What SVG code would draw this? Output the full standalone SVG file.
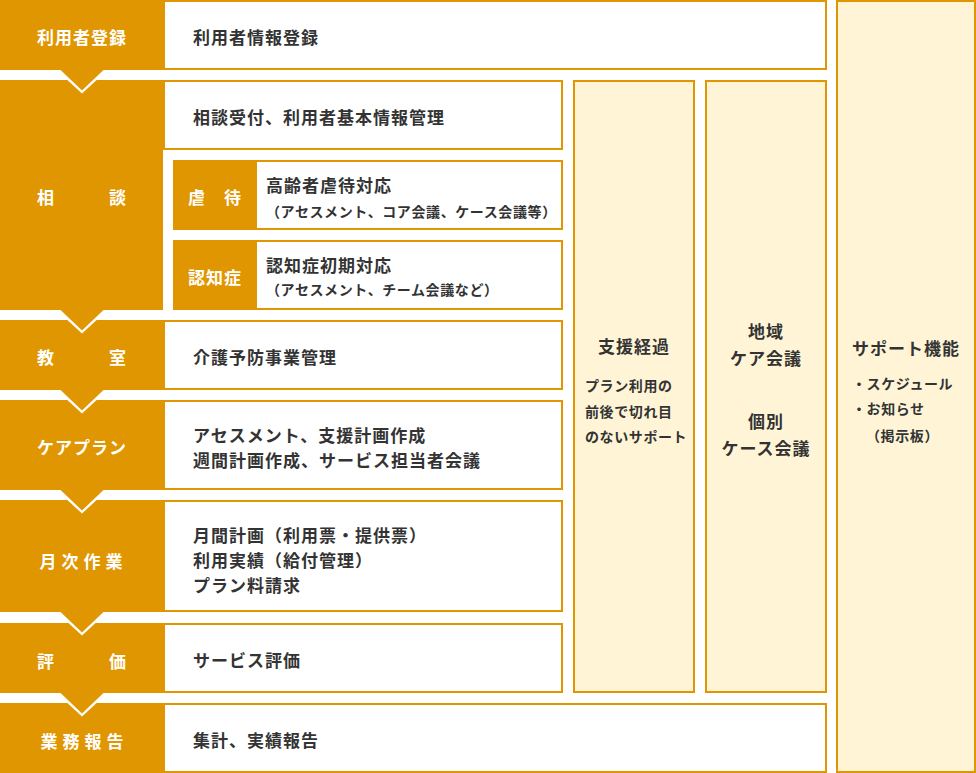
<svg xmlns="http://www.w3.org/2000/svg" width="976" height="773" viewBox="0 0 976 773">
<defs>
<style>
.box{fill:#fff;stroke:#E09600;stroke-width:2}
.col{fill:#FFF5D6;stroke:#E09600;stroke-width:2}
.lab{fill:#E09600}
.lt{font-family:"Noto Sans CJK JP",sans-serif;font-size:17px;font-weight:700;fill:#fff;letter-spacing:1px;dominant-baseline:central;text-anchor:middle}
.t{font-family:"Noto Sans CJK JP",sans-serif;font-size:17px;font-weight:700;fill:#333;letter-spacing:1px;dominant-baseline:central}
.s{font-family:"Noto Sans CJK JP",sans-serif;font-size:14px;font-weight:700;fill:#333;letter-spacing:0.6px;dominant-baseline:central}
.c{text-anchor:middle}
.wv{fill:#fff}
.ov{fill:#E09600}
</style>
</defs>
<rect width="976" height="773" fill="#fff"/>

<g id="col-shienkeika">
<rect class="col" x="574" y="81" width="120" height="611"/>
<text class="t c" x="634" y="345">支援経過</text>
<text class="s" x="585" y="385">プラン利用の</text>
<text class="s" x="585" y="411">前後で切れ目</text>
<text class="s" x="585" y="436">のないサポート</text>
</g>

<g id="col-kaigi">
<rect class="col" x="706" y="81" width="120" height="611"/>
<text class="t c" x="766" y="330.5">地域</text>
<text class="t c" x="766" y="357.5">ケア会議</text>
<text class="t c" x="766" y="420">個別</text>
<text class="t c" x="766" y="447">ケース会議</text>
</g>

<g id="col-support">
<rect class="col" x="837" y="1" width="138" height="771"/>
<text class="t c" x="906" y="347">サポート機能</text>
<text class="s" x="852" y="383">・スケジュール</text>
<text class="s" x="852" y="408">・お知らせ</text>
<text class="s" x="866" y="435">（掲示板）</text>
</g>

<g id="row-touroku">
<rect class="box" x="1" y="1" width="825" height="68"/>
<rect class="lab" x="0" y="0" width="165" height="70"/>
<text class="lt" x="82" y="36.5">利用者登録</text>
<text class="t" x="193" y="36.5">利用者情報登録</text>
</g>

<g id="row-soudan">
<rect class="lab" x="0" y="80" width="163" height="230"/>
<text class="lt" x="46 118" y="196.5">相談</text>
<rect class="box" x="164" y="81" width="398" height="68"/>
<text class="t" x="193" y="116">相談受付、利用者基本情報管理</text>
</g>

<g id="sub-gyakutai">
<rect class="box" x="174" y="161" width="388" height="68"/>
<rect class="lab" x="173" y="160" width="84" height="70"/>
<text class="lt" x="197 233" y="196.5">虐待</text>
<text class="t" x="266" y="184">高齢者虐待対応</text>
<text class="s" x="266" y="211">（アセスメント、コア会議、ケース会議等）</text>
</g>

<g id="sub-ninchisho">
<rect class="box" x="174" y="241" width="388" height="68"/>
<rect class="lab" x="173" y="240" width="84" height="70"/>
<text class="lt" x="215" y="276.5">認知症</text>
<text class="t" x="266" y="264">認知症初期対応</text>
<text class="s" x="266" y="289">（アセスメント、チーム会議など）</text>
</g>

<g id="row-kyoushitsu">
<rect class="box" x="1" y="321" width="561" height="68"/>
<rect class="lab" x="0" y="320" width="165" height="70"/>
<text class="lt" x="46 118" y="356">教室</text>
<text class="t" x="193" y="356">介護予防事業管理</text>
</g>

<g id="row-careplan">
<rect class="box" x="1" y="401" width="561" height="88"/>
<rect class="lab" x="0" y="400" width="165" height="90"/>
<text class="lt" x="82" y="446.5">ケアプラン</text>
<text class="t" x="193" y="434">アセスメント、支援計画作成</text>
<text class="t" x="193" y="459">週間計画作成、サービス担当者会議</text>
</g>

<g id="row-getsuji">
<rect class="box" x="1" y="501" width="561" height="110"/>
<rect class="lab" x="0" y="500" width="165" height="112"/>
<text class="lt" x="48.5 70.5 92.5 114.5" y="560">月次作業</text>
<text class="t" x="193" y="534">月間計画（利用票・提供票）</text>
<text class="t" x="193" y="559">利用実績（給付管理）</text>
<text class="t" x="193" y="584">プラン料請求</text>
</g>

<g id="row-hyouka">
<rect class="box" x="1" y="624" width="561" height="68"/>
<rect class="lab" x="0" y="623" width="165" height="70"/>
<text class="lt" x="46 118" y="660">評価</text>
<text class="t" x="193" y="659">サービス評価</text>
</g>

<g id="row-houkoku">
<rect class="box" x="1" y="704" width="825" height="68"/>
<rect class="lab" x="0" y="703" width="165" height="70"/>
<text class="lt" x="49.5 71.5 93.5 115.5" y="740">業務報告</text>
<text class="t" x="193" y="739">集計、実績報告</text>
</g>

<g id="connectors">
<polygon class="wv" points="56.5,70 107.5,70 82,93.5"/>
<polygon class="ov" points="59.5,69 104.5,69 82,90.5"/>
<polygon class="wv" points="56.5,310 107.5,310 82,333.5"/>
<polygon class="ov" points="59.5,309 104.5,309 82,330.5"/>
<polygon class="wv" points="56.5,390 107.5,390 82,413.5"/>
<polygon class="ov" points="59.5,389 104.5,389 82,410.5"/>
<polygon class="wv" points="56.5,490 107.5,490 82,513.5"/>
<polygon class="ov" points="59.5,489 104.5,489 82,510.5"/>
<polygon class="wv" points="56.5,612 107.5,612 82,635.5"/>
<polygon class="ov" points="59.5,611 104.5,611 82,632.5"/>
<polygon class="wv" points="56.5,693 107.5,693 82,716.5"/>
<polygon class="ov" points="59.5,692 104.5,692 82,713.5"/>
</g>
</svg>
